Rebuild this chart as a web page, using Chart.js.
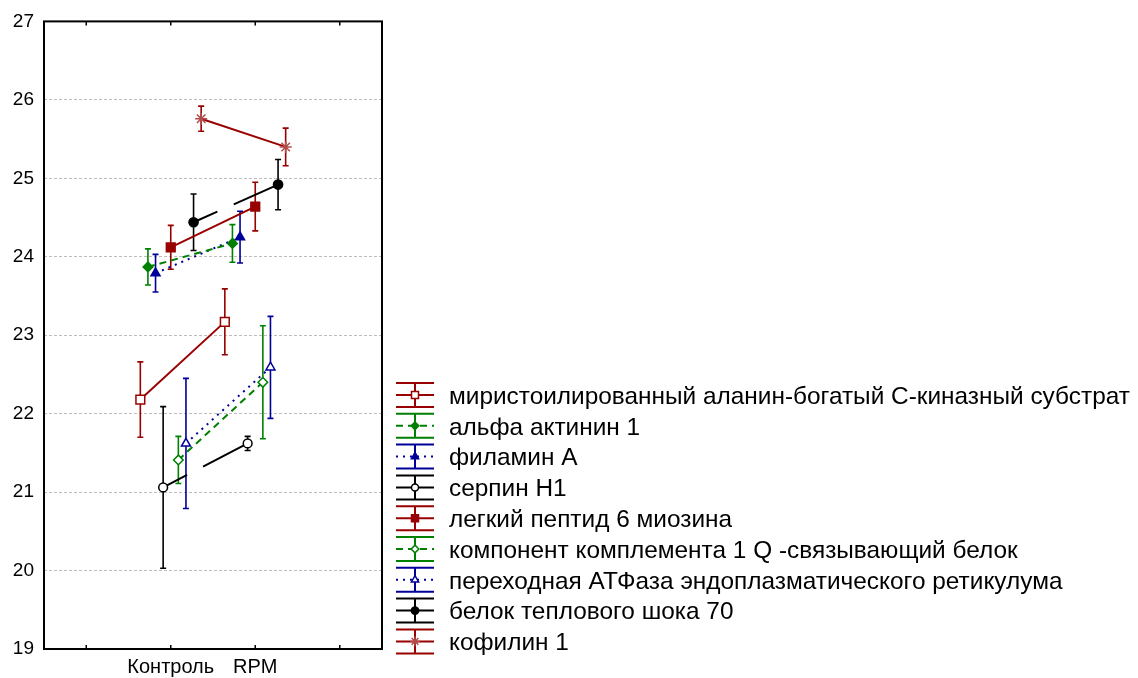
<!DOCTYPE html>
<html>
<head>
<meta charset="utf-8">
<script src="https://cdn.jsdelivr.net/npm/chart.js@4"></script>
<style>
  body { margin: 0; background: #fff; }
</style>
</head>
<body>
<canvas id="grafico" width="1138" height="678"></canvas>
<script>
// categorias del eje X
const categorias = ['Контроль', 'RPM'];

const nombres = [
  'миристоилированный аланин-богатый С-киназный субстрат',
  'альфа актинин 1',
  'филамин А',
  'серпин H1',
  'легкий пептид 6 миозина',
  'компонент комплемента 1 Q -связывающий белок',
  'переходная АТФаза эндоплазматического ретикулума',
  'белок теплового шока 70',
  'кофилин 1'
];

// medias y errores
const mediaControl = [22.18, 23.87, 23.79, 21.06, 24.12, 21.41, 21.62, 24.44, 25.76];
const mediaRPM     = [23.17, 24.17, 24.25, 21.62, 24.64, 22.40, 22.59, 24.92, 25.40];
const errControl   = [0.48, 0.23, 0.24, 1.03, 0.28, 0.30, 0.83, 0.36, 0.16];
const errRPM       = [0.42, 0.24, 0.33, 0.09, 0.31, 0.72, 0.65, 0.32, 0.24];

const ticksY = [19, 20, 21, 22, 23, 24, 25, 26, 27];

// estilos de cada serie
const ROJO = '#990000', VERDE = '#008000', AZUL = '#000099', NEGRO = '#000000';
const estilos = [
  { color: ROJO,  dash: [],           punto: 'rect',    relleno: false, r: 6.2 },
  { color: VERDE, dash: [7, 5],       punto: 'rectRot', relleno: true,  r: 4.8 },
  { color: AZUL,  dash: [2, 5],       punto: 'triangle',relleno: true,  r: 5.2 },
  { color: NEGRO, dash: [27, 18, 999],punto: 'circle',  relleno: false, r: 4.4 },
  { color: ROJO,  dash: [],           punto: 'rect',    relleno: true,  r: 6.2 },
  { color: VERDE, dash: [7, 5],       punto: 'rectRot', relleno: false, r: 4.8 },
  { color: AZUL,  dash: [2, 5],       punto: 'triangle',relleno: false, r: 5.2 },
  { color: NEGRO, dash: [26, 18, 999],punto: 'circle',  relleno: true,  r: 4.6 },
  { color: ROJO,  dash: [],           punto: 'star',    relleno: false, r: 6 }
];

const datasets = nombres.map(function(nom, i){
  const e = estilos[i];
  const desp = (i - 4) * 0.09;
  return {
    label: nom,
    data: [
      { x: 1.5 + desp, y: mediaControl[i], err: errControl[i] },
      { x: 2.5 + desp, y: mediaRPM[i], err: errRPM[i] }
    ],
    showLine: true,
    borderColor: e.color,
    borderWidth: 2,
    borderDash: e.dash,
    pointStyle: e.punto,
    pointRadius: e.r,
    pointHoverRadius: e.r,
    pointBorderWidth: 1.5,
    pointBorderColor: i == 8 ? '#b24a4a' : e.color,
    pointBackgroundColor: e.relleno ? e.color : '#ffffff'
  };
});

// barras de error
const barrasError = {
  id: 'barrasError',
  beforeDatasetsDraw(chart){
    const ctx = chart.ctx, y = chart.scales.y;
    chart.data.datasets.forEach(function(ds, i){
      const meta = chart.getDatasetMeta(i);
      ctx.save();
      ctx.strokeStyle = estilos[i].color;
      ctx.lineWidth = 1.6;
      meta.data.forEach(function(p, j){
        const d = ds.data[j];
        const y1 = y.getPixelForValue(d.y + d.err), y2 = y.getPixelForValue(d.y - d.err);
        ctx.beginPath();
        ctx.moveTo(p.x, y1); ctx.lineTo(p.x, y2);
        ctx.moveTo(p.x - 3, y1); ctx.lineTo(p.x + 3, y1);
        ctx.moveTo(p.x - 3, y2); ctx.lineTo(p.x + 3, y2);
        ctx.stroke();
      });
      ctx.restore();
    });
  }
};

// marco, marcas y leyenda
const marcoLeyenda = {
  id: 'marcoLeyenda',
  afterDraw(chart){
    const ctx = chart.ctx, a = chart.chartArea, x = chart.scales.x;
    ctx.save();
    ctx.strokeStyle = '#000';
    ctx.lineWidth = 2;
    ctx.strokeRect(a.left, a.top, a.right - a.left, a.bottom - a.top);
    ctx.lineWidth = 1.5;
    [0.5, 1.5, 2.5, 3.5].forEach(function(v){
      const px = x.getPixelForValue(v);
      ctx.beginPath();
      ctx.moveTo(px, a.bottom); ctx.lineTo(px, a.bottom - 4);
      ctx.moveTo(px, a.top); ctx.lineTo(px, a.top + 4);
      ctx.stroke();
    });

    // leyenda
    const x0 = 396, x1 = 434, xc = 415;
    chart.data.datasets.forEach(function(ds, i){
      const e = estilos[i];
      const yc = 395 + i * 30.8;
      ctx.strokeStyle = e.color;
      ctx.lineWidth = 2;
      ctx.setLineDash([]);
      ctx.beginPath();
      ctx.moveTo(x0, yc - 12); ctx.lineTo(x1, yc - 12);
      ctx.moveTo(x0, yc + 12); ctx.lineTo(x1, yc + 12);
      ctx.moveTo(xc, yc - 12); ctx.lineTo(xc, yc + 12);
      ctx.stroke();
      ctx.setLineDash(e.dash.length == 2 ? e.dash : []);
      ctx.beginPath();
      ctx.moveTo(x0, yc); ctx.lineTo(x1, yc);
      ctx.stroke();
      ctx.setLineDash([]);
      ctx.lineWidth = 1.5;
      ctx.fillStyle = e.relleno ? e.color : '#fff';
      ctx.strokeStyle = i == 8 ? '#b24a4a' : e.color;
      Chart.helpers.drawPoint(ctx, { pointStyle: e.punto, radius: e.r * 0.8, borderWidth: 1.5 }, xc, yc);
      ctx.fillStyle = '#000';
      ctx.font = '24.4px "Liberation Sans", Arial, sans-serif';
      ctx.textBaseline = 'middle';
      ctx.textAlign = 'left';
      ctx.fillText(ds.label, 449, yc + 2);
    });
    ctx.restore();
  }
};

new Chart(document.getElementById('grafico'), {
  type: 'scatter',
  data: { datasets: datasets },
  plugins: [barrasError, marcoLeyenda],
  options: {
    responsive: false,
    devicePixelRatio: 1,
    animation: false,
    layout: { padding: { left: 0, top: 19, right: 756, bottom: 0 } },
    plugins: { legend: { display: false }, tooltip: { enabled: false } },
    scales: {
      x: {
        type: 'linear', min: 0, max: 4,
        afterBuildTicks: function(s){ s.ticks = [0.5, 1.5, 2.5, 3.5].map(v => ({ value: v })); },
        afterFit: function(s){ s.height = 29; },
        grid: { display: false },
        border: { display: false },
        ticks: {
          color: '#000', padding: 0,
          font: { family: '"Liberation Sans", Arial, sans-serif', size: 20, lineHeight: 1 },
          callback: function(v){ return v == 1.5 ? categorias[0] : (v == 2.5 ? categorias[1] : ''); }
        }
      },
      y: {
        min: 19, max: 27,
        afterBuildTicks: function(s){ s.ticks = ticksY.map(v => ({ value: v })); },
        afterFit: function(s){ s.width = 44; },
        border: { display: false, dash: [3, 2] },
        grid: { color: '#bdbdbd', lineWidth: 1, drawTicks: false },
        ticks: {
          color: '#000', padding: 10,
          font: { family: '"Liberation Sans", Arial, sans-serif', size: 19 }
        }
      }
    }
  }
});
</script>
</body>
</html>
